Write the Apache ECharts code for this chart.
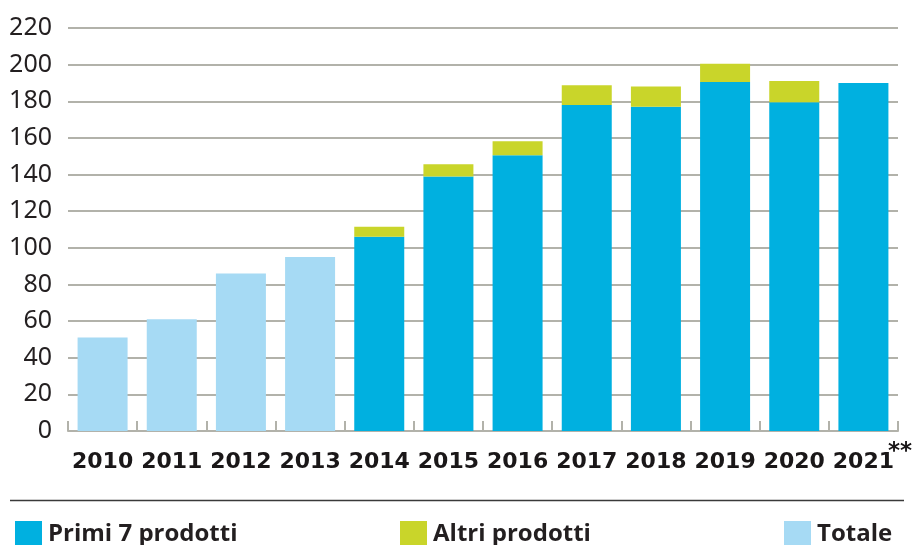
<!DOCTYPE html>
<html>
<head>
<meta charset="utf-8">
<script src="https://cdn.jsdelivr.net/npm/echarts@6/dist/echarts.min.js"></script>
<style>
  html, body { margin: 0; padding: 0; background: #fff; }
  #chart { width: 920px; height: 545px; }
</style>
</head>
<body>
<div id="chart"></div>
<script>
const years = ['2010', '2011', '2012', '2013', '2014', '2015', '2016', '2017', '2018', '2019', '2020', '2021']
const totale = [51, 61, 86, 95, '-', '-', '-', '-', '-', '-', '-', '-']
const primi7 = ['-', '-', '-', '-', 106, 139, 150.5, 178, 177, 190.5, 179.5, 190]
const altri = ['-', '-', '-', '-', 5.5, 6.6, 7.7, 10.7, 11, 10, 11.5, '-']
const yTicks = [0, 220, 20]

const BLUE = '#00b0e0'
const GREEN = '#c9d52a'
const LIGHT = '#a6daf4'
const GRID = '#b2b2aa'

const chart = echarts.init(document.getElementById('chart'))

function legendAt(name, left) {
  return {
    data: [name],
    left: left,
    top: 516,
    itemWidth: 27,
    itemHeight: 26,
    icon: 'rect',
    selectedMode: false,
    textStyle: {
      fontFamily: 'Open Sans',
      fontWeight: 'bold',
      fontSize: 24,
      color: '#231f20',
      padding: [0, 0, 0, 1]
    }
  }
}

chart.setOption({
  animation: false,
  grid: { left: 68, right: 22, top: 28, bottom: 114 },
  legend: [
    legendAt('Primi 7 prodotti', 10),
    legendAt('Altri prodotti', 395),
    legendAt('Totale', 779)
  ],
  xAxis: {
    type: 'category',
    data: years,
    axisLine: { show: true, lineStyle: { color: GRID, width: 2 } },
    axisTick: {
      show: true,
      inside: true,
      length: 10,
      interval: 0,
      alignWithLabel: false,
      lineStyle: { color: GRID, width: 2 }
    },
    axisLabel: {
      interval: 0,
      margin: 20,
      fontFamily: 'DejaVu Sans',
      fontWeight: 'bold',
      fontSize: 22,
      color: '#1a1718'
    }
  },
  yAxis: {
    type: 'value',
    min: yTicks[0],
    max: yTicks[1],
    interval: yTicks[2],
    axisLine: { show: false },
    axisTick: { show: false },
    splitLine: { lineStyle: { color: GRID, width: 2 } },
    axisLabel: {
      margin: 16,
      fontFamily: 'Noto Sans',
      fontSize: 25,
      color: '#231f20'
    }
  },
  series: [
    { name: 'Totale', type: 'bar', stack: 'a', barWidth: 50, data: totale, itemStyle: { color: LIGHT } },
    { name: 'Primi 7 prodotti', type: 'bar', stack: 'a', barWidth: 50, data: primi7, itemStyle: { color: BLUE } },
    { name: 'Altri prodotti', type: 'bar', stack: 'a', barWidth: 50, data: altri, itemStyle: { color: GREEN } }
  ],
  graphic: [
    {
      type: 'line',
      shape: { x1: 10, y1: 500.5, x2: 904, y2: 500.5 },
      style: { stroke: '#3a3a3a', lineWidth: 1.5 }
    },
    {
      type: 'text',
      left: 888,
      top: 441,
      style: { text: '**', fontFamily: 'DejaVu Sans', fontWeight: 'bold', fontSize: 23, fill: '#1a1718' }
    }
  ]
})
</script>
</body>
</html>
